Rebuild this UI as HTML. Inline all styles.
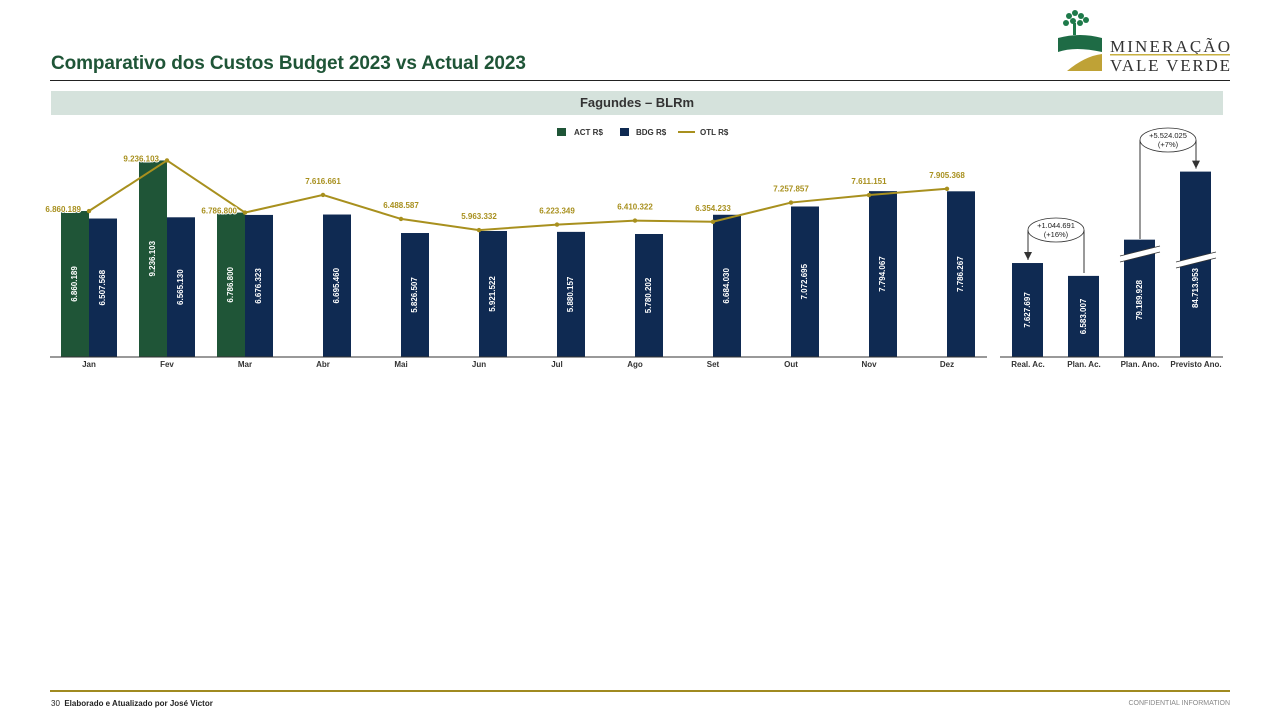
<!DOCTYPE html>
<html><head><meta charset="utf-8">
<style>
body{margin:0;width:1280px;height:720px;background:#fff;font-family:"Liberation Sans",Arial,sans-serif;position:relative;overflow:hidden}
.title{position:absolute;left:51px;top:53px;font-size:19px;font-weight:bold;color:#1f5537;letter-spacing:-0.1px}
.rule{position:absolute;left:50px;top:80px;width:1180px;height:1px;background:#222}
.banner{position:absolute;left:51px;top:91px;width:1172px;height:24px;background:#d5e2dc;text-align:center;font-size:13px;font-weight:bold;color:#333;line-height:24px}
.foot{position:absolute;left:50px;top:690px;width:1180px;height:2px;background:#a08a20}
.fl{position:absolute;left:51px;top:699px;font-size:8px;color:#222}
.fr{position:absolute;right:50px;top:700px;font-size:7px;color:#888}
</style></head><body>
<div class="title">Comparativo dos Custos Budget 2023 vs Actual 2023</div>
<div class="rule"></div>
<svg style="position:absolute;left:1055px;top:8px" width="180" height="66">
<g fill="#1e7a4a"><circle cx="14" cy="8" r="3"/><circle cx="20" cy="5" r="3"/><circle cx="26" cy="8" r="3"/><circle cx="11" cy="15" r="3"/><circle cx="18" cy="13" r="3"/><circle cx="25" cy="15" r="3"/><circle cx="31" cy="12" r="3"/><rect x="18" y="15" width="3" height="12"/></g>
<path d="M3 30 Q25 24 47 30 L47 44 Q20 38 3 44Z" fill="#1e6b45"/>
<path d="M12 63 Q30 48 47 46 L47 63Z" fill="#bfa236"/>
<text x="55" y="44" font-family="Liberation Serif" font-size="17" fill="#333" textLength="120">MINERAÇÃO</text>
<rect x="55" y="46" width="120" height="1.5" fill="#c8b040"/>
<text x="55" y="63" font-family="Liberation Serif" font-size="17" fill="#333" textLength="120">VALE VERDE</text>
</svg>
<div class="banner">Fagundes – BLRm</div>
<svg id="c" width="1280" height="720" style="position:absolute;left:0;top:0"></svg>
<div class="foot"></div>
<div class="fl">30 &nbsp;<b>Elaborado e Atualizado por José Victor</b></div>
<div class="fr">CONFIDENTIAL INFORMATION</div>
<script>
const months=["Jan","Fev","Mar","Abr","Mai","Jun","Jul","Ago","Set","Out","Nov","Dez"];
const act=[6860189,9236103,6786800,null,null,null,null,null,null,null,null,null];
const bdg=[6507568,6565130,6676323,6695460,5826507,5921522,5880157,5780202,6684030,7072695,7794067,7786267];
const otl=[6860189,9236103,6786800,7616661,6488587,5963332,6223349,6410322,6354233,7257857,7611151,7905368];
const sumCats=["Real. Ac.","Plan. Ac.","Plan. Ano.","Previsto Ano."];
const sumVals=[7627697,6583007,79189928,84713953];
const svg=document.getElementById('c');const NS="http://www.w3.org/2000/svg";
function el(t,a,txt){const e=document.createElementNS(NS,t);for(const k in a)e.setAttribute(k,a[k]);if(txt!=null)e.textContent=txt;svg.appendChild(e);return e;}
const fmt=v=>Math.round(v).toString().replace(/\B(?=(\d{3})+(?!\d))/g,".");
const base=357;const y=v=>base-v*21.28/1e6;const xc=i=>89+i*78;
const GREEN="#1f5537",NAVY="#0f2a52",GOLD="#a8901e";
let g=el('rect',{x:557,y:128,width:9,height:8,fill:GREEN});
g=el('text',{x:574,y:135,'font-size':8,'font-weight':'bold',fill:'#333'},'ACT R$');
g=el('rect',{x:620,y:128,width:9,height:8,fill:NAVY});
g=el('text',{x:636,y:135,'font-size':8,'font-weight':'bold',fill:'#333'},'BDG R$');
g=el('line',{x1:678,y1:132,x2:695,y2:132,stroke:GOLD,'stroke-width':2});
g=el('text',{x:700,y:135,'font-size':8,'font-weight':'bold',fill:'#333'},'OTL R$');
function vlabel(cx,top,v,name){const cy=(top+base)/2;const t=el('text',{x:cx,y:cy,'font-size':8,'font-weight':'bold',fill:'#fff','text-anchor':'middle','dominant-baseline':'middle',transform:`rotate(-90 ${cx} ${cy})`},fmt(v));}
months.forEach((m,i)=>{
  if(act[i]!=null){const r=el('rect',{x:xc(i)-28,y:y(act[i]),width:28,height:base-y(act[i]),fill:GREEN});vlabel(xc(i)-14,y(act[i]),act[i],'bar-act-label');}
  const r=el('rect',{x:xc(i),y:y(bdg[i]),width:28,height:base-y(bdg[i]),fill:NAVY});vlabel(xc(i)+14,y(bdg[i]),bdg[i],'bar-bdg-label');
  const t=el('text',{x:xc(i),y:367,'font-size':8,'font-weight':'bold',fill:'#333','text-anchor':'middle'},m);
});
let p=el('polyline',{points:otl.map((v,i)=>xc(i)+','+y(v)).join(' '),fill:'none',stroke:GOLD,'stroke-width':2});
otl.forEach((v,i)=>{const c=el('circle',{cx:xc(i),cy:y(v),r:2.2,fill:GOLD});
  const left=act[i]!=null;const t=el('text',{x:left?xc(i)-8:xc(i),y:left?y(v)+1:y(v)-11,'font-size':8,'font-weight':'bold',fill:GOLD,'text-anchor':left?'end':'middle'},fmt(v));
  if(left)t.setAttribute('style','paint-order:stroke;stroke:#fff;stroke-width:2px');
  });
g=el('line',{x1:50,y1:357,x2:987,y2:357,stroke:'#333','stroke-width':1});
const sx=i=>1028+i*56;const sy=v=>base-v*12.32/1e6;
const brk=(v)=>v>2e7;
const sTop=sumVals.map(v=>brk(v)?base-(115+(v-7.9e7)*12.32/1e6):sy(v));
sumVals.forEach((v,i)=>{const r=el('rect',{x:sx(i)-16,y:sTop[i],width:31,height:base-sTop[i],fill:NAVY});
  const by=i===2?256:262;
  if(brk(v)){const b=el('path',{d:`M${sx(i)-20} ${by+3} L${sx(i)+20} ${by-7}`,stroke:'#fff','stroke-width':6,fill:'none'});
    const b2=el('path',{d:`M${sx(i)-20} ${by} L${sx(i)+20} ${by-10} M${sx(i)-20} ${by+6} L${sx(i)+20} ${by-4}`,stroke:'#333','stroke-width':.7,fill:'none'});}
  vlabel(sx(i),brk(v)?(i===2?243:219):sTop[i],v,'bar-summary-label');
  const t=el('text',{x:sx(i),y:367,'font-size':8,'font-weight':'bold',fill:'#333','text-anchor':'middle'},sumCats[i]);});
g=el('line',{x1:1000,y1:357,x2:1223,y2:357,stroke:'#333','stroke-width':1});
function callout(x1,x2,yTop,yA,yB,cx,cy,l1,l2,name){
  const p=el('path',{d:`M${x1} ${yA} L${x1} ${yTop} M${x2} ${yTop} L${x2} ${yB}`,stroke:'#333','stroke-width':1,fill:'none'});
  const a=el('path',{d:`M${x1-4} ${yA-8} L${x1+4} ${yA-8} L${x1} ${yA}Z`,fill:'#333'});
  const e=el('ellipse',{cx:cx,cy:cy,rx:28,ry:12,fill:'#fff',stroke:'#333','stroke-width':.8});
  let t=el('text',{x:cx,y:cy-2,'font-size':7.5,'text-anchor':'middle',fill:'#222'},l1);
  t=el('text',{x:cx,y:cy+7,'font-size':7.5,'text-anchor':'middle',fill:'#222'},l2);}
callout(1028,1084,230,sTop[0]-3,273,1056,230,'+1.044.691','(+16%)','callout-accum');
callout(1196,1140,140,sTop[3]-3,239,1168,140,'+5.524.025','(+7%)','callout-year');
</script>
</body></html>
